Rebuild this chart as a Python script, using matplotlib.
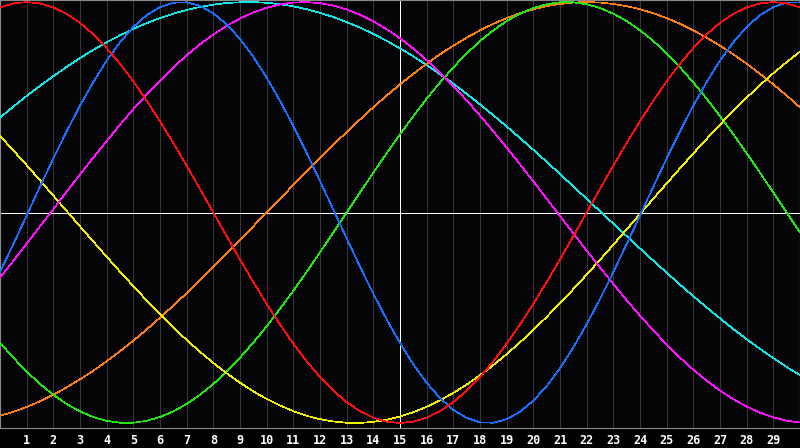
import numpy as np
import matplotlib
matplotlib.use('Agg')
import matplotlib.pyplot as plt

# values read every half day, day 0 .. 30
days = np.arange(0, 30.5, 0.5)
tick_days = list(range(1, 30))

red = [97.5, 99.4, 100, 99.4, 97.5, 94.4, 90.1, 84.7, 78.2, 70.7, 62.3, 53.2, 43.4, 33.0, 22.3, 11.2,
       0, -11.2, -22.3, -33.0, -43.4, -53.2, -62.3, -70.7, -78.2, -84.7, -90.1, -94.4, -97.5, -99.4,
       -100, -99.4, -97.5, -94.4, -90.1, -84.7, -78.2, -70.7, -62.3, -53.2, -43.4, -33.0, -22.3, -11.2,
       0, 11.2, 22.3, 33.0, 43.4, 53.2, 62.3, 70.7, 78.2, 84.7, 90.1, 94.4, 97.5, 99.4, 100, 99.4, 97.5]
blue = [-28.3, -15.0, -1.4, 12.3, 25.7, 38.6, 50.8, 62.0, 72.2, 80.9, 88.2, 93.8, 97.6, 99.7, 99.9,
        98.2, 94.7, 89.4, 82.5, 74.0, 64.1, 53.1, 41.1, 28.3, 15.0, 1.4, -12.3, -25.7, -38.6, -50.8,
        -62.0, -72.2, -80.9, -88.2, -93.8, -97.6, -99.7, -99.9, -98.2, -94.7, -89.4, -82.5, -74.0, -64.1,
        -53.1, -41.1, -28.3, -15.0, -1.4, 12.3, 25.7, 38.6, 50.8, 62.0, 72.2, 80.9, 88.2, 93.8, 97.6, 99.7, 99.9]
green = [-61.8, -69.0, -75.6, -81.5, -86.6, -91.0, -94.5, -97.2, -99.0, -99.9, -99.9, -99.0, -97.2, -94.5,
         -91.0, -86.6, -81.5, -75.6, -69.0, -61.8, -54.1, -45.8, -37.2, -28.2, -18.9, -9.5, 0, 9.5, 18.9,
         28.2, 37.2, 45.8, 54.1, 61.8, 69.0, 75.6, 81.5, 86.6, 91.0, 94.5, 97.2, 99.0, 99.9, 99.9, 99.0,
         97.2, 94.5, 91.0, 86.6, 81.5, 75.6, 69.0, 61.8, 54.1, 45.8, 37.2, 28.2, 18.9, 9.5, 0, -9.5]
cyan = [45.1, 50.3, 55.4, 60.2, 64.8, 69.2, 73.4, 77.3, 80.9, 84.2, 87.3, 90.0, 92.4, 94.5, 96.3, 97.7,
        98.8, 99.6, 99.9, 100, 99.7, 99.0, 98.0, 96.6, 94.9, 92.9, 90.5, 87.9, 84.9, 81.6, 78.0, 74.2,
        70.1, 65.7, 61.2, 56.4, 51.4, 46.2, 40.9, 35.4, 29.8, 24.1, 18.3, 12.4, 6.5, 0.6, -5.3, -11.2,
        -17.1, -22.9, -28.6, -34.3, -39.8, -45.1, -50.3, -55.4, -60.2, -64.8, -69.2, -73.4, -77.3]
magenta = [-30.9, -23.0, -14.8, -6.6, 1.6, 9.9, 18.1, 26.1, 34.0, 41.7, 49.1, 56.1, 62.7, 68.9, 74.7,
           79.9, 84.6, 88.7, 92.2, 95.1, 97.3, 98.9, 99.8, 100, 99.5, 98.4, 96.5, 94.0, 90.9, 87.1, 82.8,
           77.9, 72.4, 66.5, 60.1, 53.3, 46.1, 38.6, 30.9, 22.9, 14.8, 6.6, -1.7, -9.9, -18.1, -26.1, -34.0,
           -41.7, -49.0, -56.1, -62.7, -69.0, -74.7, -79.9, -84.6, -88.7, -92.2, -95.1, -97.3, -98.9, -99.8]
orange = [-96.6, -94.7, -92.4, -89.7, -86.6, -83.1, -79.3, -75.2, -70.7, -65.9, -60.9, -55.6, -50.0, -44.2,
          -38.3, -32.1, -25.9, -19.5, -13.1, -6.5, 0, 6.5, 13.1, 19.5, 25.9, 32.1, 38.3, 44.2, 50.0, 55.6,
          60.9, 65.9, 70.7, 75.2, 79.3, 83.1, 86.6, 89.7, 92.4, 94.7, 96.6, 98.1, 99.1, 99.8, 100, 99.8,
          99.1, 98.1, 96.6, 94.7, 92.4, 89.7, 86.6, 83.1, 79.3, 75.2, 70.7, 65.9, 60.9, 55.6, 50.0]
yellow = [36.4, 29.5, 22.5, 15.3, 8.0, 0.7, -6.6, -13.8, -21.0, -28.1, -35.0, -41.8, -48.3, -54.6, -60.6,
          -66.2, -71.5, -76.4, -80.9, -85.0, -88.6, -91.7, -94.4, -96.6, -98.2, -99.3, -99.9, -100, -99.5,
          -98.5, -96.9, -94.9, -92.3, -89.3, -85.7, -81.8, -77.3, -72.5, -67.3, -61.7, -55.8, -49.6, -43.1,
          -36.4, -29.5, -22.5, -15.3, -8.0, -0.7, 6.6, 13.8, 21.0, 28.1, 35.0, 41.8, 48.3, 54.6, 60.6, 66.2,
          71.5, 76.4]

series = [
    (cyan, '#10e8e8'),
    (orange, '#ff8010'),
    (green, '#20e810'),
    (yellow, '#f0f000'),
    (magenta, '#ff10ff'),
    (blue, '#1870ff'),
    (red, '#ff1010'),
]

fig = plt.figure(figsize=(8, 4.48), dpi=100, facecolor='black')
ax = fig.add_axes([0, 20 / 448, 1, 428 / 448])
ax.set_facecolor('#050508')

# day grid
for d in tick_days:
    ax.axvline(d, color='#363636', lw=0.6, zorder=1, antialiased=False)

# crosshair
ax.axvline(15, color='white', lw=0.7, zorder=2, antialiased=False)
ax.axhline(0, color='white', lw=0.7, zorder=2, antialiased=False)

for vals, col in series:
    ax.plot(days, vals, color=col, lw=0.5, zorder=3, antialiased=False)

ax.set_xlim(0, 30)
ax.set_ylim(-102.4, 101)
ax.set_xticks(tick_days)
ax.set_xticklabels([str(d) for d in tick_days])
ax.set_yticks([])
ax.tick_params(axis='x', length=0, pad=4, colors='white')
for lbl in ax.get_xticklabels():
    lbl.set_fontfamily('DejaVu Sans Mono')
    lbl.set_fontweight('bold')
    lbl.set_fontsize(8.5)
for sp in ax.spines.values():
    sp.set_color('#8a8a8a')
    sp.set_linewidth(0.8)

fig.savefig('out.png', dpi=100, facecolor='black')
